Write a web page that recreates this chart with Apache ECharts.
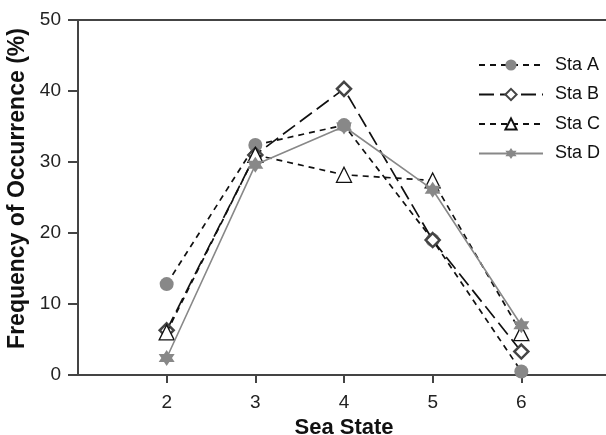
<!DOCTYPE html>
<html><head><meta charset="utf-8">
<script src="https://cdn.jsdelivr.net/npm/echarts@6/dist/echarts.min.js"></script>
<style>html,body{margin:0;padding:0;background:#fff;overflow:hidden}#c{width:606px;height:435px}</style>
</head><body><div id="c"></div>
<script>
const seaState = [2, 3, 4, 5, 6];
const staA = [12.8, 32.4, 35.2, 19.0, 0.5];
const staB = [6.3, 31.0, 40.3, 19.0, 3.3];
const staC = [6.0, 31.0, 28.2, 27.4, 5.9];
const staD = [2.4, 29.6, 35.0, 26.1, 7.0];
const yTicks = [0, 10, 20, 30, 40, 50];

const star = 'path://M0 -10 L2.885 -5 L8.66 -5 L5.77 0 L8.66 5 L2.885 5 L0 10 L-2.885 5 L-8.66 5 L-5.77 0 L-8.66 -5 L-2.885 -5 Z';
const font = 'Liberation Sans, Arial, sans-serif';
const pts = v => seaState.map((x, i) => [x, v[i]]);

const chart = echarts.init(document.getElementById('c'), null, {renderer: 'canvas'});
chart.setOption({
  animation: false,
  grid: {left: 78, top: 20, width: 532, height: 355, show: false,
         containLabel: false, outerBoundsMode: 'none'},
  legend: {
    orient: 'vertical', left: 473, top: 51, itemWidth: 64, itemHeight: 14, itemGap: 11.5,
    textStyle: {fontFamily: font, fontSize: 18, color: '#111', padding: [0, 0, 0, 7]},
    data: ['Sta A', 'Sta B', 'Sta C', 'Sta D']
  },
  xAxis: [{
    type: 'value', min: 1, max: 7, interval: 1,
    name: 'Sea State', nameLocation: 'middle', nameGap: 36,
    nameTextStyle: {fontFamily: font, fontSize: 22, fontWeight: 'bold', color: '#111'},
    axisLine: {lineStyle: {color: '#444', width: 2}},
    axisTick: {length: 8, lineStyle: {color: '#444', width: 2}, customValues: seaState},
    axisLabel: {fontFamily: font, fontSize: 19, color: '#222', margin: 18, customValues: seaState},
    splitLine: {show: false}
  }, {
    type: 'value', position: 'top', min: 1, max: 7, interval: 1,
    axisLine: {show: true, lineStyle: {color: '#444', width: 2}},
    axisTick: {show: false}, axisLabel: {show: false}, splitLine: {show: false}
  }],
  yAxis: {
    type: 'value', min: 0, max: 50, interval: 10,
    name: 'Frequency of Occurrence (%)', nameLocation: 'middle', nameGap: 46,
    nameTextStyle: {fontFamily: font, fontSize: 23, fontWeight: 'bold', color: '#111', padding: [0, 0, 0, 18]},
    axisLine: {show: true, lineStyle: {color: '#444', width: 2}},
    axisTick: {show: true, length: 10, lineStyle: {color: '#444', width: 2}},
    axisLabel: {fontFamily: font, fontSize: 19, color: '#222', margin: 17, formatter: v => yTicks.includes(v) ? String(v) : ''},
    splitLine: {show: false}
  },
  series: [
    {name: 'Sta A', type: 'line', data: pts(staA), symbol: 'circle', symbolSize: 14,
     itemStyle: {color: '#888', borderWidth: 0},
     lineStyle: {color: '#111', width: 1.7, type: [6, 5]}, z: 3},
    {name: 'Sta B', type: 'line', data: pts(staB), symbol: 'diamond', symbolSize: 14,
     itemStyle: {color: '#fff', borderColor: '#444', borderWidth: 2.5},
     lineStyle: {color: '#111', width: 1.7, type: [15, 6]}, z: 4},
    {name: 'Sta C', type: 'line', data: pts(staC), symbol: 'triangle', symbolSize: 15,
     itemStyle: {color: '#fff', borderColor: '#111', borderWidth: 1.3},
     lineStyle: {color: '#111', width: 1.7, type: [6, 5]}, z: 5},
    {name: 'Sta D', type: 'line', data: pts(staD), symbol: star, symbolSize: 16,
     itemStyle: {color: '#888', borderWidth: 0},
     lineStyle: {color: '#888', width: 1.6, type: 'solid'}, z: 6}
  ]
});
</script></body></html>
